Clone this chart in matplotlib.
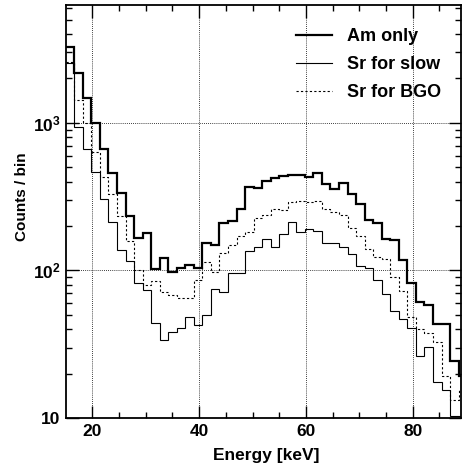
import numpy as np
import matplotlib
matplotlib.use("Agg")
import matplotlib.pyplot as plt
from matplotlib.ticker import FixedLocator, FuncFormatter, LogLocator, NullFormatter, MultipleLocator
from matplotlib.lines import Line2D

# ---------------- data ----------------
bin_start = 15.0
bin_width = 1.6
am_only = [3280, 2183, 1479, 1000, 664, 455, 336, 234, 167, 180, 102, 122, 98, 103, 109, 103,
           153, 148, 210, 217, 261, 366, 362, 402, 423, 436, 443, 440, 431, 455, 385, 356,
           393, 330, 281, 219, 208, 164, 161, 117, 82, 61, 58, 43, 43, 24.4, 19.3]
sr_slow = [2550, 942, 664, 467, 303, 214, 137, 115, 82, 74, 44, 33.6, 38, 40.7, 48.5, 42.7,
           50, 75, 71.5, 96, 96.6, 136, 143, 162, 144, 177, 213, 181, 191, 185, 153, 153,
           145, 129, 107, 103, 86, 69, 53, 46.6, 40.9, 26.3, 30.4, 17.4, 15.5, 10.3, 10.3]
sr_bgo = [2570, 1426, 990, 637, 431, 328, 235, 158, 101, 80, 84.5, 71.5, 68, 65.5, 65.5, 86,
          113.5, 98, 132, 148, 171, 183, 227, 238, 259, 257, 290, 294, 289, 294, 262, 250,
          237, 193, 172, 139, 124, 119, 90.6, 72, 48.5, 39.8, 37.5, 32.6, 19.3, 13.2, 15.4]
labels = ["Am only", "Sr for slow", "Sr for BGO"]
x_ticks = [20, 40, 60, 80]
y_ticks = [10, 100, 1000]
y_tick_labels = ["10", r"$\mathbf{10^{2}}$", r"$\mathbf{10^{3}}$"]

edges = bin_start + bin_width * np.arange(len(am_only) + 1)

# ---------------- style ----------------
plt.rcParams['font.family'] = ['Liberation Sans', 'DejaVu Sans']
plt.rcParams['font.weight'] = 'bold'
plt.rcParams['mathtext.fontset'] = 'custom'
plt.rcParams['mathtext.rm'] = 'Liberation Sans:bold'
plt.rcParams['mathtext.bf'] = 'Liberation Sans:bold'
plt.rcParams['mathtext.it'] = 'Liberation Sans:bold'

W, H = 462, 473
fig = plt.figure(figsize=(W / 100, H / 100), dpi=100)
ax = fig.add_axes([66 / W, 1 - 418 / H, (461 - 66) / W, (418 - 5) / H])

ax.stairs(am_only, edges, color='black', linewidth=1.6, baseline=None, label=labels[0])
ax.stairs(sr_slow, edges, color='black', linewidth=0.8, baseline=None, label=labels[1])
ax.stairs(sr_bgo, edges, color='black', linewidth=0.8, linestyle=(0, (2.0, 2.0)),
          baseline=None, label=labels[2])

ax.set_yscale('log')
ax.set_xlim(15.05, 89.05)
ax.set_ylim(10, 6280)

ax.xaxis.set_major_locator(FixedLocator(x_ticks))
ax.xaxis.set_minor_locator(MultipleLocator(5))
ax.yaxis.set_major_locator(FixedLocator(y_ticks))
ax.yaxis.set_minor_locator(LogLocator(base=10, subs=np.arange(2, 10)))
ax.yaxis.set_minor_formatter(NullFormatter())
ax.yaxis.set_major_formatter(FuncFormatter(lambda v, p: y_tick_labels[y_ticks.index(round(v))] if round(v) in y_ticks else ""))

ax.tick_params(which='both', direction='in', top=True, right=True, width=1.0)
ax.tick_params(which='major', length=9, labelsize=12.5, pad=4)
ax.tick_params(which='minor', length=4.5)
for s in ax.spines.values():
    s.set_linewidth(1.3)

ax.grid(True, which='major', color='black', linestyle=(0, (1, 1.5)), linewidth=0.6)

ax.set_xlabel("Energy [keV]", fontsize=12.5, fontweight='bold')
ax.xaxis.set_label_coords((266 - 66) / 395, (418 - 448) / 413)
ax.set_ylabel("Counts / bin", fontsize=11, fontweight='bold')
ax.yaxis.label.set_rotation_mode('default')
ax.yaxis.label.set_va('center')
ax.yaxis.set_label_coords((22 - 66) / 395, (418 - 197) / 413)

handles = [Line2D([], [], color='black', linewidth=1.6),
           Line2D([], [], color='black', linewidth=0.8),
           Line2D([], [], color='black', linewidth=0.8, linestyle=(0, (2.0, 2.0)))]
leg = ax.legend(handles, labels, loc='upper left', bbox_to_anchor=(296 / W, 1 - 28 / H),
                bbox_transform=fig.transFigure, frameon=False, fontsize=13,
                handlelength=2.0, handletextpad=0.8, labelspacing=0.62, borderpad=0,
                borderaxespad=0)

fig.savefig("out.png", dpi=100)
